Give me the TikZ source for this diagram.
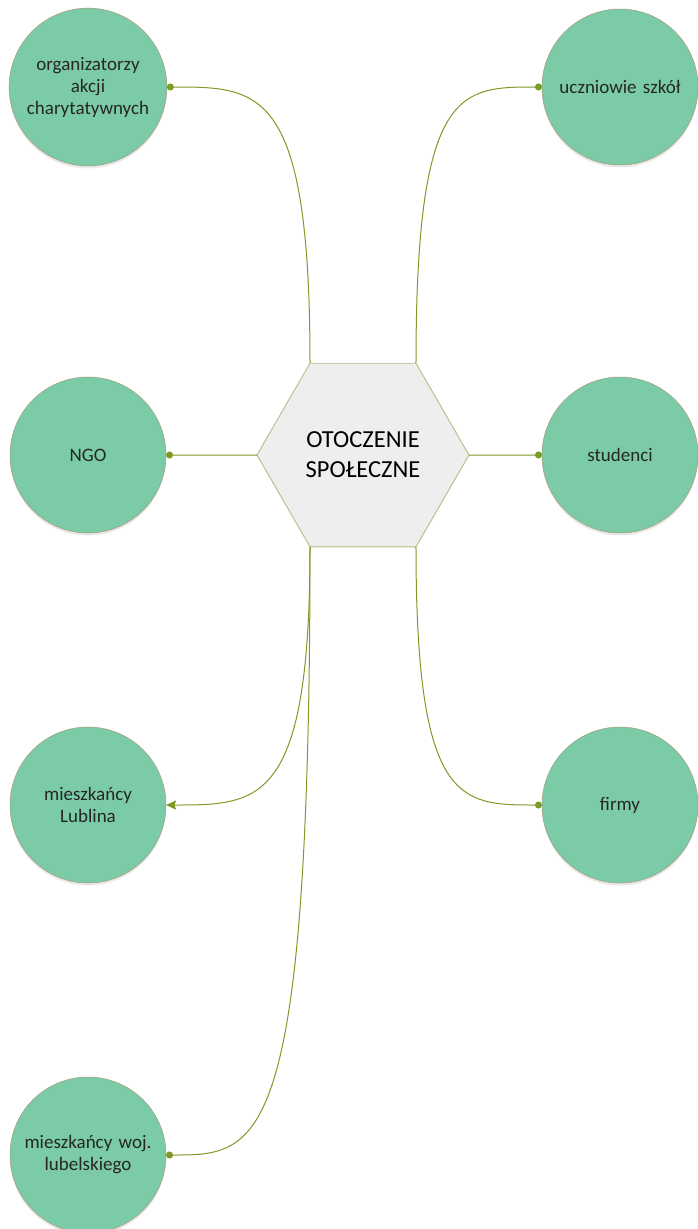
\documentclass[tikz,border=0pt]{standalone}
\usepackage{fontspec}
\setmainfont{Carlito}
\usetikzlibrary{shapes.geometric,arrows.meta,shadows,calc}
\definecolor{bubble}{HTML}{7ACBA6}
\definecolor{bubbleedge}{HTML}{A89A78}
\definecolor{link}{HTML}{7E9A26}
\definecolor{hexfill}{HTML}{EEEEEE}
\definecolor{hexedge}{HTML}{B3BE86}
\tikzset{
  group/.style={circle, minimum size=156pt, inner sep=0pt, outer sep=0pt,
    fill=bubble, draw=bubbleedge, line width=0.5pt,
    drop shadow={opacity=0.18, shadow xshift=0pt, shadow yshift=-2.5pt},
    align=center, text width=146pt, text=black!85,
    font=\fontsize{19}{22}\selectfont},
  core/.style={regular polygon, regular polygon sides=6, minimum size=212pt,
    inner sep=0pt, outer sep=0pt, fill=hexfill, draw=hexedge, line width=0.9pt,
    align=center, font=\fontsize{24.5}{30}\selectfont},
  link/.style={draw=link, line width=1pt},
  dotend/.style={link, -{Circle[length=7pt]}},
  arrowend/.style={link, -{Stealth[length=10pt, width=9pt, inset=1.5pt]}}
}
% elbow-like curve: leaves the hexagon corner vertically, reaches the bubble horizontally
\newcommand{\elbow}[3]{%
  \draw[#1] (#2) .. controls (#2 |- #3) and ($(#3)!0.65!(#2 |- #3)$) .. (#3);}
\begin{document}
\begin{tikzpicture}[x=1pt, y=-1pt]
  \useasboundingbox (0,0) rectangle (697,1229);

  % centre hexagon
  \node[core] (hex) at (363,455) {OTOCZENIE\\SPOŁECZNE};

  % surrounding groups
  \node[group] (org) at (88,87)   {organizatorzy\\akcji\\charytatywnych};
  \node[group] (ucz) at (620,87)  {uczniowie szkół};
  \node[group] (ngo) at (88,455)  {NGO};
  \node[group] (stu) at (620,455) {studenci};
  \node[group] (lub) at (88,805)  {mieszkańcy\\Lublina};
  \node[group] (fir) at (620,805) {firmy};
  \node[group] (woj) at (88,1155) {mieszkańcy woj.\\lubelskiego};

  % connectors
  \elbow{dotend}{hex.120}{org.east}
  \elbow{dotend}{hex.60}{ucz.west}
  \draw[dotend] (hex.180) -- (ngo.east);
  \draw[dotend] (hex.0) -- (stu.west);
  \elbow{arrowend}{hex.240}{lub.east}
  \elbow{dotend}{hex.300}{fir.west}
  \elbow{dotend}{hex.240}{woj.east}
\end{tikzpicture}
\end{document}
